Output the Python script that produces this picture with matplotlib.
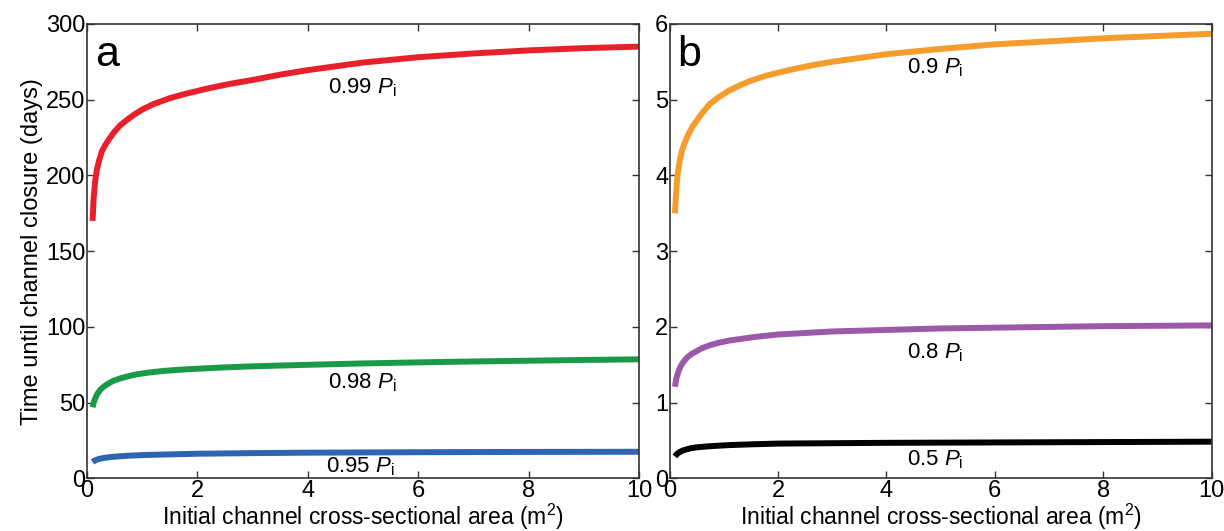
import matplotlib
matplotlib.use("Agg")
import matplotlib.pyplot as plt

plt.rcParams['font.family'] = ['Liberation Sans', 'DejaVu Sans']
plt.rcParams['mathtext.fontset'] = 'custom'
plt.rcParams['mathtext.rm'] = 'Liberation Sans'
plt.rcParams['mathtext.it'] = 'Liberation Sans:italic'

# ---- panel a: 0.99, 0.98, 0.95 Pi (days)
x_99 = [0.1, 0.12, 0.15, 0.18, 0.22, 0.27, 0.33, 0.4, 0.5, 0.6, 0.7, 0.85, 1.0, 1.2, 1.5,
        1.8, 2.2, 2.6, 3, 3.5, 4, 5, 6, 7, 8, 9, 10]
y_99 = [170, 185, 197, 204, 210, 216, 220, 224, 229, 233, 236, 240, 243.5, 247, 251,
        254, 257.5, 260.5, 263, 266.5, 269.5, 274.5, 278, 280.5, 282.5, 284, 285]
x_98 = [0.1, 0.12, 0.15, 0.19, 0.24, 0.3, 0.38, 0.48, 0.6, 0.75, 0.9, 1.1, 1.4, 1.7, 2,
        2.5, 3, 4, 5, 6, 7, 8, 9, 10]
y_98 = [47, 50, 53, 56, 58.5, 60.5, 62.5, 64.5, 66, 67.5, 68.7, 69.8, 71, 71.8, 72.4,
        73.3, 74, 75, 75.9, 76.6, 77.2, 77.7, 78.2, 78.6]
x_95 = [0.1, 0.13, 0.17, 0.22, 0.3, 0.4, 0.55, 0.75, 1, 1.4, 2, 3, 4, 6, 8, 10]
y_95 = [10.8, 11.6, 12.3, 12.9, 13.5, 14, 14.5, 15, 15.4, 15.8, 16.3, 16.7, 17, 17.3, 17.5, 17.6]

# ---- panel b: 0.9, 0.8, 0.5 Pi (days)
x_90 = [0.1, 0.12, 0.14, 0.16, 0.19, 0.23, 0.28, 0.34, 0.42, 0.5, 0.6, 0.74, 0.9, 1.1, 1.3,
        1.5, 1.8, 2.2, 2.6, 3, 3.5, 4, 5, 6, 7, 8, 9, 10]
y_90 = [3.5, 3.75, 3.95, 4.07, 4.2, 4.33, 4.43, 4.53, 4.64, 4.72, 4.82, 4.94, 5.03, 5.12, 5.19,
        5.25, 5.32, 5.39, 5.45, 5.5, 5.55, 5.6, 5.67, 5.73, 5.77, 5.81, 5.84, 5.87]
x_80 = [0.1, 0.12, 0.15, 0.18, 0.22, 0.27, 0.33, 0.4, 0.5, 0.6, 0.75, 0.9, 1.1, 1.3, 1.6,
        2, 2.5, 3, 4, 5, 6, 7, 8, 9, 10]
y_80 = [1.21, 1.3, 1.38, 1.44, 1.5, 1.55, 1.6, 1.64, 1.68, 1.72, 1.76, 1.79, 1.82, 1.84, 1.87,
        1.9, 1.92, 1.94, 1.96, 1.98, 1.99, 2.0, 2.01, 2.015, 2.02]
x_50 = [0.1, 0.12, 0.15, 0.19, 0.25, 0.32, 0.4, 0.5, 0.65, 0.85, 1.1, 1.5, 2, 3, 4, 6, 8, 10]
y_50 = [0.29, 0.31, 0.33, 0.35, 0.37, 0.385, 0.4, 0.41, 0.42, 0.43, 0.44, 0.45, 0.46, 0.465,
        0.47, 0.475, 0.48, 0.485]

fig = plt.figure(figsize=(12.24, 5.31), dpi=100)
axa = fig.add_axes([0.0711, 0.099, 0.451, 0.856])
axb = fig.add_axes([0.547, 0.099, 0.443, 0.856])

lw = 4.3
axa.plot(x_99, y_99, color='#e8202a', lw=lw, solid_capstyle='butt')
axa.plot(x_98, y_98, color='#1a9a48', lw=lw, solid_capstyle='butt')
axa.plot(x_95, y_95, color='#2f64b0', lw=lw, solid_capstyle='butt')
axb.plot(x_90, y_90, color='#f49d2c', lw=lw, solid_capstyle='butt')
axb.plot(x_80, y_80, color='#9b59a8', lw=lw, solid_capstyle='butt')
axb.plot(x_50, y_50, color='black', lw=lw, solid_capstyle='butt')

fs = 16
axa.text(4.37, 258, r'0.99 $P_\mathrm{i}$', fontsize=fs, va='center')
axa.text(4.37, 63.5, r'0.98 $P_\mathrm{i}$', fontsize=fs, va='center')
axa.text(4.33, 8, r'0.95 $P_\mathrm{i}$', fontsize=fs, va='center')
axb.text(4.38, 5.42, r'0.9 $P_\mathrm{i}$', fontsize=fs, va='center')
axb.text(4.38, 1.66, r'0.8 $P_\mathrm{i}$', fontsize=fs, va='center')
axb.text(4.38, 0.25, r'0.5 $P_\mathrm{i}$', fontsize=fs, va='center')

axa.text(0.015, 0.975, 'a', transform=axa.transAxes, fontsize=31, va='top', ha='left')
axb.text(0.015, 0.975, 'b', transform=axb.transAxes, fontsize=31, va='top', ha='left')

axa.set_xlim(0, 10)
axa.set_ylim(0, 300)
axa.set_yticks([0, 50, 100, 150, 200, 250, 300])
axb.set_xlim(0, 10)
axb.set_ylim(0, 6)
axb.set_yticks([0, 1, 2, 3, 4, 5, 6])

for ax in (axa, axb):
    ax.set_xticks([0, 2, 4, 6, 8, 10])
    ax.tick_params(direction='in', top=True, right=True, length=5, width=1,
                   labelsize=17, colors='#333333', labelcolor='black', pad=1)
    for s in ax.spines.values():
        s.set_color('#333333')
        s.set_linewidth(1.2)
    ax.set_xlabel('Initial channel cross-sectional area (m$^2$)', fontsize=16.5, labelpad=0)

axa.set_ylabel('Time until channel closure (days)', fontsize=17, labelpad=2)

fig.savefig('out.png', dpi=100)
